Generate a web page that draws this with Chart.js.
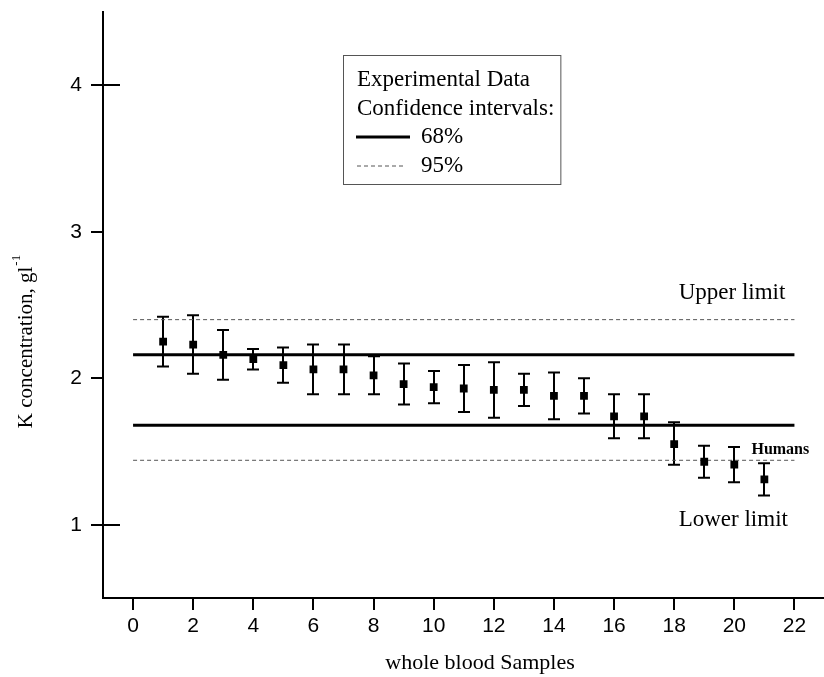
<!DOCTYPE html>
<html>
<head>
<meta charset="utf-8">
<script src="https://cdn.jsdelivr.net/npm/chart.js@4.4.1/dist/chart.umd.min.js"></script>
<style>
  html, body { margin: 0; padding: 0; background: #fff; overflow: hidden; }
  #chart { display: block; }
</style>
</head>
<body>
<canvas id="chart" width="830" height="677"></canvas>
<script>
// sample number and measured K concentration (g/l)
const samples = [1, 2, 3, 4, 5, 6, 7, 8, 9, 10, 11, 12, 13, 14, 15, 16, 17, 18, 19, 20, 21];
const potassium = [2.25, 2.23, 2.16, 2.13, 2.09, 2.06, 2.06, 2.02, 1.96, 1.94, 1.93, 1.92, 1.92, 1.88, 1.88, 1.74, 1.74, 1.55, 1.43, 1.41, 1.31];
const errHigh = [2.42, 2.43, 2.33, 2.20, 2.21, 2.23, 2.23, 2.15, 2.10, 2.05, 2.09, 2.11, 2.03, 2.04, 2.00, 1.89, 1.89, 1.70, 1.54, 1.53, 1.42];
const errLow = [2.08, 2.03, 1.99, 2.06, 1.97, 1.89, 1.89, 1.89, 1.82, 1.83, 1.77, 1.73, 1.81, 1.72, 1.76, 1.59, 1.59, 1.41, 1.32, 1.29, 1.20];

// confidence interval limits
const ci68 = [1.68, 2.16];
const ci95 = [1.44, 2.40];
const limitSpan = [0, 22];

const xTickLabels = [0, 2, 4, 6, 8, 10, 12, 14, 16, 18, 20, 22];
const yTickLabels = [1, 2, 3, 4];

const SERIF = '"Liberation Serif", "Times New Roman", serif';
const SANS = '"Liberation Sans", Arial, sans-serif';

function hLine(value, dashed, width) {
  return {
    type: 'line',
    data: limitSpan.map(x => ({ x: x, y: value })),
    borderColor: dashed ? '#555' : '#000',
    borderWidth: width,
    borderDash: dashed ? [4, 3] : [],
    pointRadius: 0,
    fill: false,
    order: 2
  };
}

const errorBars = {
  id: 'errorBars',
  beforeDatasetsDraw(chart) {
    const { ctx, scales: { x, y } } = chart;
    ctx.save();
    ctx.strokeStyle = '#000';
    ctx.lineWidth = 2;
    samples.forEach((s, i) => {
      const px = Math.round(x.getPixelForValue(s));
      const top = y.getPixelForValue(errHigh[i]);
      const bot = y.getPixelForValue(errLow[i]);
      ctx.beginPath();
      ctx.moveTo(px, top); ctx.lineTo(px, bot);
      ctx.moveTo(px - 6, top); ctx.lineTo(px + 6, top);
      ctx.moveTo(px - 6, bot); ctx.lineTo(px + 6, bot);
      ctx.stroke();
    });
    ctx.restore();
  }
};

const axisTicks = {
  id: 'axisTicks',
  afterDraw(chart) {
    const { ctx, chartArea: a, scales: { x, y } } = chart;
    ctx.save();
    ctx.strokeStyle = '#000';
    ctx.lineWidth = 2;
    ctx.beginPath();
    x.ticks.forEach(t => {
      const px = Math.round(x.getPixelForValue(t.value));
      const len = xTickLabels.includes(t.value) ? 12 : 6;
      ctx.moveTo(px, a.bottom); ctx.lineTo(px, a.bottom + len);
    });
    y.ticks.forEach((t, i) => {
      const py = Math.round(y.getPixelForValue(t.value));
      const len = yTickLabels.includes(t.value) ? 12 : 6;
      const inner = (i === 0 || i === y.ticks.length - 1) ? 17 : 0;
      ctx.moveTo(a.left - len, py); ctx.lineTo(a.left + inner, py);
    });
    ctx.stroke();
    ctx.restore();
  }
};

const axisTitles = {
  id: 'axisTitles',
  afterDraw(chart) {
    const ctx = chart.ctx;
    ctx.save();
    ctx.fillStyle = '#000';
    ctx.textBaseline = 'middle';

    // x title
    ctx.textAlign = 'center';
    ctx.font = '22px ' + SERIF;
    ctx.fillText('whole blood Samples', 480, 663);

    // y title with superscript unit
    const main = 'K concentration, gl';
    const sup = '-1';
    ctx.translate(26, 342);
    ctx.rotate(-Math.PI / 2);
    ctx.textAlign = 'left';
    ctx.font = '21px ' + SERIF;
    const w1 = ctx.measureText(main).width;
    ctx.font = '13px ' + SERIF;
    const w2 = ctx.measureText(sup).width;
    const start = -(w1 + w2) / 2;
    ctx.font = '21px ' + SERIF;
    ctx.fillText(main, start, 0);
    ctx.font = '13px ' + SERIF;
    ctx.fillText(sup, start + w1 + 1, -9);
    ctx.restore();
  }
};

const annotations = {
  id: 'annotations',
  afterDraw(chart) {
    const { ctx, scales: { x, y } } = chart;
    ctx.save();
    ctx.fillStyle = '#000';
    ctx.textBaseline = 'middle';
    ctx.textAlign = 'left';
    ctx.font = '23px ' + SERIF;
    ctx.fillText('Upper limit', x.getPixelForValue(18.15), y.getPixelForValue(2.58));
    ctx.fillText('Lower limit', x.getPixelForValue(18.15), y.getPixelForValue(1.03));
    ctx.font = 'bold 16px ' + SERIF;
    ctx.fillText('Humans', x.getPixelForValue(20.57), y.getPixelForValue(1.51));

    // legend box
    const bx = 343, by = 55, lh = 28.5, tx = 357;
    ctx.font = '23px ' + SERIF;
    const bw = ctx.measureText('Confidence intervals:').width + (tx - bx) + 6;
    ctx.fillStyle = '#fff';
    ctx.fillRect(bx, by, bw, 129);
    ctx.strokeStyle = '#555';
    ctx.lineWidth = 1;
    ctx.strokeRect(bx + 0.5, by + 0.5, bw, 129);
    ctx.fillStyle = '#000';
    ctx.fillText('Experimental Data', tx, by + 25);
    ctx.fillText('Confidence intervals:', tx, by + 25 + lh);
    ctx.fillText('68%', 421, by + 25 + 2 * lh);
    ctx.fillText('95%', 421, by + 25 + 3 * lh);
    ctx.beginPath();
    ctx.strokeStyle = '#000';
    ctx.lineWidth = 3;
    ctx.moveTo(356, by + 25 + 2 * lh); ctx.lineTo(410, by + 25 + 2 * lh);
    ctx.stroke();
    ctx.beginPath();
    ctx.strokeStyle = '#555';
    ctx.lineWidth = 1;
    ctx.setLineDash([4, 3]);
    ctx.moveTo(357, by + 25 + 3 * lh + 0.5); ctx.lineTo(406, by + 25 + 3 * lh + 0.5);
    ctx.stroke();
    ctx.restore();
  }
};

new Chart(document.getElementById('chart'), {
  type: 'scatter',
  data: {
    datasets: [
      {
        label: 'Experimental Data',
        data: samples.map((s, i) => ({ x: s, y: potassium[i] })),
        pointStyle: 'rect',
        pointRadius: 5.5,
        pointHoverRadius: 5.5,
        backgroundColor: '#000',
        borderColor: '#000',
        borderWidth: 0,
        order: 1
      },
      hLine(ci68[1], false, 3),
      hLine(ci68[0], false, 3),
      hLine(ci95[1], true, 1),
      hLine(ci95[0], true, 1)
    ]
  },
  options: {
    responsive: false,
    animation: false,
    events: [],
    layout: { padding: { top: 12, right: 0, left: 0, bottom: 0 } },
    plugins: {
      legend: { display: false },
      tooltip: { enabled: false }
    },
    scales: {
      x: {
        type: 'linear',
        min: -1,
        max: 23,
        afterFit: s => {
          s.height = 79;
          s.paddingLeft = 0;
          s.paddingRight = 0;
        },
        border: { display: true, color: '#000', width: 2 },
        grid: { drawOnChartArea: false, drawTicks: false },
        ticks: {
          stepSize: 1,
          autoSkip: false,
          maxRotation: 0,
          padding: 16,
          color: '#000',
          font: { family: SANS, size: 21 },
          callback: v => xTickLabels.includes(v) ? String(v) : null
        }
      },
      y: {
        min: 0.5,
        max: 4.5,
        afterFit: s => {
          s.width = 103;
          s.paddingTop = 0;
          s.paddingBottom = 0;
        },
        border: { display: true, color: '#000', width: 2 },
        grid: { drawOnChartArea: false, drawTicks: false },
        ticks: {
          stepSize: 0.5,
          autoSkip: false,
          padding: 21,
          color: '#000',
          font: { family: SANS, size: 21 },
          callback: v => yTickLabels.includes(v) ? String(v) : null
        }
      }
    }
  },
  plugins: [errorBars, axisTicks, axisTitles, annotations]
});
</script>
</body>
</html>
